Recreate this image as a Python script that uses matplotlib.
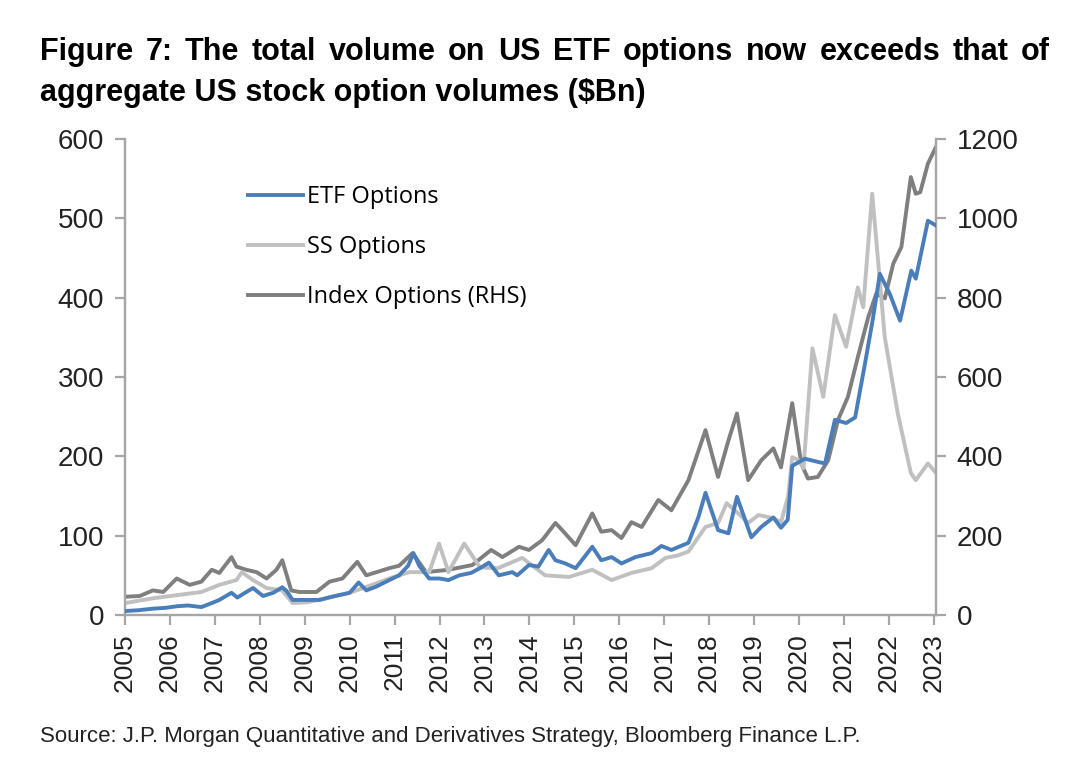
import matplotlib
matplotlib.use("Agg")
import matplotlib.pyplot as plt

# ETF options volume ($Bn, left axis)
etf_dates = [2005.0, 2005.3, 2005.62, 2005.9, 2006.15, 2006.4, 2006.7, 2006.93, 2007.1, 2007.37,
             2007.5, 2007.7, 2007.85, 2008.07, 2008.3, 2008.5, 2008.6, 2008.73, 2009.1, 2009.33,
             2009.6, 2010.0, 2010.2, 2010.37, 2010.6, 2010.88, 2011.1, 2011.3, 2011.42, 2011.55,
             2011.77, 2012.0, 2012.2, 2012.44, 2012.7, 2012.9, 2013.1, 2013.32, 2013.62, 2013.73,
             2013.99, 2014.2, 2014.43, 2014.58, 2014.8, 2015.03, 2015.4, 2015.6, 2015.83, 2016.05,
             2016.36, 2016.72, 2016.94, 2017.16, 2017.54, 2017.76, 2017.92, 2018.2, 2018.43, 2018.62,
             2018.94, 2019.16, 2019.43, 2019.6, 2019.75, 2019.85, 2020.13, 2020.42, 2020.58, 2020.8,
             2021.05, 2021.25, 2021.47, 2021.65, 2021.8, 2022.02, 2022.25, 2022.5, 2022.6, 2022.87,
             2023.05]
etf_vals = [5, 6, 8, 9, 11, 12, 10, 15, 19, 28,
            22, 29, 34, 24, 28, 35, 30, 19, 19, 19,
            23, 28, 41, 31, 36, 44, 50, 62, 78, 62,
            46, 46, 44, 50, 53, 59, 66, 50, 54, 50,
            63, 61, 82, 69, 65, 59, 86, 69, 73, 65,
            73, 78, 87, 82, 91, 123, 154, 107, 103, 149,
            98, 111, 123, 110, 120, 188, 197, 193, 191, 246,
            242, 249, 317, 375, 430, 405, 371, 434, 424, 497,
            491]

# single stock options volume ($Bn, left axis)
ss_dates = [2005.0, 2005.3, 2005.62, 2006.15, 2006.7, 2007.1, 2007.48, 2007.6, 2007.85, 2008.15,
            2008.5, 2008.73, 2009.04, 2009.4, 2010.0, 2010.5, 2010.88, 2011.33, 2011.77, 2011.99,
            2012.2, 2012.55, 2012.9, 2013.3, 2013.84, 2014.35, 2014.88, 2015.4, 2015.83, 2016.27,
            2016.72, 2017.03, 2017.3, 2017.54, 2017.92, 2018.2, 2018.39, 2018.65, 2018.87, 2019.1,
            2019.43, 2019.6, 2019.76, 2019.85, 2020.0, 2020.1, 2020.3, 2020.54, 2020.8, 2021.05,
            2021.31, 2021.43, 2021.63, 2021.91, 2022.2, 2022.49, 2022.6, 2022.87, 2023.05]
ss_vals = [15, 18, 21, 25, 29, 38, 44, 54, 44, 34,
           31, 15, 16, 20, 28, 38, 46, 54, 54, 90,
           54, 90, 60, 59, 72, 50, 48, 57, 44, 53,
           59, 72, 75, 80, 111, 116, 141, 128, 116, 126,
           122, 117, 150, 199, 195, 185, 336, 275, 378, 338,
           413, 388, 531, 350, 254, 179, 170, 191, 179]

# index options volume ($Bn, right axis)
idx_dates = [2005.0, 2005.33, 2005.62, 2005.85, 2006.15, 2006.44, 2006.7, 2006.93, 2007.1, 2007.37,
             2007.48, 2007.7, 2007.93, 2008.15, 2008.37, 2008.5, 2008.7, 2008.88, 2009.26, 2009.55,
             2009.84, 2010.17, 2010.37, 2010.88, 2011.1, 2011.4, 2011.7, 2012.2, 2012.73, 2013.15,
             2013.4, 2013.77, 2013.99, 2014.28, 2014.58, 2014.73, 2015.03, 2015.4, 2015.6, 2015.83,
             2016.05, 2016.27, 2016.5, 2016.87, 2017.16, 2017.54, 2017.92, 2018.2, 2018.43, 2018.62,
             2018.87, 2019.16, 2019.43, 2019.6, 2019.85, 2020.05, 2020.2, 2020.42, 2020.65, 2020.87,
             2021.09, 2021.31, 2021.54, 2021.72, 2021.91, 2022.1, 2022.28, 2022.49, 2022.6, 2022.7,
             2022.87, 2023.05]
idx_vals = [46, 48, 62, 58, 92, 76, 84, 114, 106, 146,
            122, 114, 108, 92, 114, 138, 62, 58, 58, 84,
            92, 134, 100, 118, 124, 156, 108, 114, 126, 164,
            146, 172, 164, 188, 232, 214, 176, 256, 210, 214,
            194, 234, 222, 290, 264, 340, 466, 348, 440, 508,
            340, 390, 420, 372, 534, 382, 344, 348, 390, 492,
            550, 650, 750, 810, 798, 886, 928, 1104, 1062, 1066,
            1138, 1180]

years = list(range(2005, 2024))

W, H = 1080, 764
fig = plt.figure(figsize=(W / 100, H / 100), dpi=100)
ax = fig.add_axes([125 / W, 1 - 615 / H, (936 - 125) / W, (615 - 139) / H])
ax2 = ax.twinx()

blue = "#4a7ebb"
light = "#c0c0c0"
dark = "#7f7f7f"
axcol = "#a6a6a6"
lw = 2.8

l_etf, = ax.plot(etf_dates, etf_vals, color=blue, lw=lw, zorder=3)
l_ss, = ax.plot(ss_dates, ss_vals, color=light, lw=lw, zorder=2)
l_idx, = ax2.plot(idx_dates, idx_vals, color=dark, lw=lw, zorder=2)

ax.set_zorder(ax2.get_zorder() + 1)
ax.patch.set_visible(False)

ax.set_xlim(2005, 2023.05)
ax.set_ylim(0, 600)
ax2.set_ylim(0, 1200)
ax.set_yticks(range(0, 601, 100))
ax2.set_yticks(range(0, 1201, 200))
ax.set_xticks(years)
ax.set_xticklabels([str(y) for y in years], rotation=90)

tick_font = "Liberation Sans"
for a in (ax, ax2):
    for s in a.spines.values():
        s.set_color(axcol)
        s.set_linewidth(1.6)
    a.spines["top"].set_visible(False)
    a.tick_params(colors=axcol, labelcolor="#222222", width=1.6, length=7, direction="out")
    for lab in a.get_yticklabels():
        lab.set_fontsize(20)
        lab.set_family(tick_font)
for lab in ax.get_xticklabels():
    lab.set_fontsize(19)
    lab.set_family(tick_font)
ax.tick_params(axis="y", pad=8)
ax2.tick_params(axis="y", pad=8)
ax.tick_params(axis="x", pad=6)

fig.legend([l_etf, l_ss, l_idx], ["ETF Options", "SS Options", "Index Options (RHS)"],
           loc="upper left", bbox_to_anchor=(239 / W, 1 - 176 / H), frameon=False,
           prop={"family": "Open Sans", "size": 17}, handlelength=2.3, handletextpad=0.2,
           labelspacing=1.1, borderaxespad=0)

# justified two-line title
r = fig.canvas.get_renderer()
tkw = dict(fontsize=22, fontweight="bold", family="Liberation Sans", va="baseline")
line1 = "Figure 7: The total volume on US ETF options now exceeds that of".split()
txts = [fig.text(0, 1 - 60 / H, w, **tkw) for w in line1]
widths = [t.get_window_extent(r).width for t in txts]
gap = (1050 - 40 - sum(widths)) / (len(line1) - 1)
x = 40
for t, w in zip(txts, widths):
    t.set_x(x / W)
    x += w + gap
fig.text(40 / W, 1 - 101 / H, "aggregate US stock option volumes ($Bn)", **tkw)

fig.text(40 / W, 1 - 742 / H,
         "Source: J.P. Morgan Quantitative and Derivatives Strategy, Bloomberg Finance L.P.",
         fontsize=16, family="Liberation Sans", va="baseline", color="#222222")

fig.savefig("out.png", dpi=100)
